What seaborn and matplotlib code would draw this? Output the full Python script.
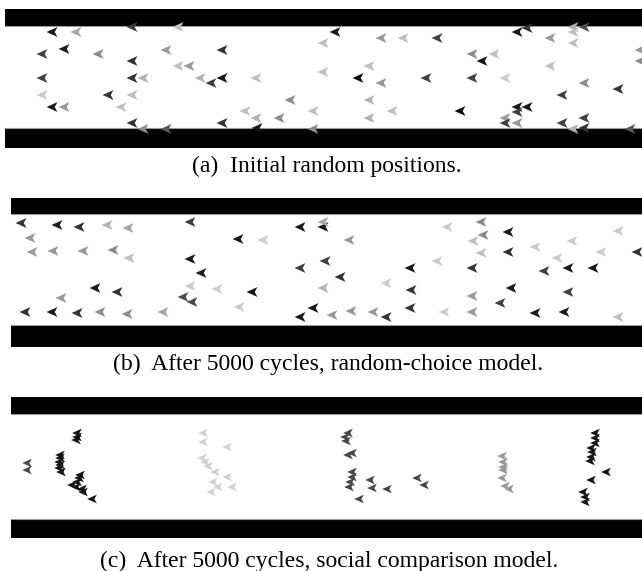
import numpy as np
import pandas as pd
import matplotlib
matplotlib.use("Agg")
import matplotlib.pyplot as plt
from matplotlib.path import Path
import seaborn as sns

# ---------------- data (positions, in pixel units) ----------------
a_x = [52, 76, 132, 178, 42, 64, 98, 166, 222, 323, 132, 178, 189, 42, 132, 143, 200, 211, 222, 256,
       323, 42, 108, 132, 290, 52, 64, 121, 245, 256, 279, 313, 132, 222, 143, 166, 257, 313,
       335, 381, 403, 437, 517, 527, 573, 584, 550, 573, 573, 472, 482, 494, 369, 550, 640, 640,
       358, 381, 426, 472, 505, 584, 618, 562, 369, 392, 460, 517, 527, 517, 369, 505, 505, 517,
       562, 584, 573, 584, 630]
a_y = [32, 32, 27, 27, 54, 49, 54, 50, 50, 43, 61, 66, 66, 78, 78, 78, 78, 83, 78, 78,
       72, 95, 95, 95, 100, 107, 107, 107, 111, 118, 118, 111, 123, 123, 129, 129, 128, 129,
       32, 38, 38, 38, 32, 28, 27, 27, 38, 32, 43, 54, 61, 54, 66, 66, 50, 61,
       78, 83, 78, 78, 78, 83, 89, 95, 100, 111, 111, 107, 107, 112, 118, 118, 123, 123,
       123, 118, 129, 128, 129]
a_shade = [0.1, 0.65, 0.25, 0.75, 0.25, 0.1, 0.55, 0.6, 0.2, 0.75, 0.2, 0.75, 0.6, 0.25, 0.2, 0.7, 0.7, 0.25, 0.1, 0.75,
           0.75, 0.8, 0.2, 0.75, 0.55, 0.1, 0.6, 0.75, 0.75, 0.7, 0.55, 0.75, 0.2, 0.2, 0.55, 0.35, 0.1, 0.55,
           0.1, 0.6, 0.75, 0.25, 0.1, 0.2, 0.7, 0.3, 0.6, 0.75, 0.75, 0.55, 0.1, 0.75, 0.75, 0.75, 0.6, 0.55,
           0.05, 0.6, 0.25, 0.25, 0.8, 0.55, 0.2, 0.25, 0.7, 0.75, 0.05, 0.1, 0.1, 0.25, 0.7, 0.6, 0.25, 0.6,
           0.25, 0.25, 0.7, 0.2, 0.35]

b_x = [21, 57, 79, 107, 128, 190, 30, 32, 53, 83, 113, 129, 238, 263, 190, 201, 190, 217, 252, 95,
       117, 61, 183, 192, 239, 25, 52, 77, 100, 127, 163, 300, 323, 323, 300, 325, 323, 313, 300,
       349, 340, 332, 351, 373, 386, 386, 410, 411, 410, 437, 447, 444, 481, 483, 473, 481, 472,
       472, 472, 508, 508, 511, 500, 535, 557, 572, 568, 593, 544, 568, 535, 564, 618, 601, 637, 618]
b_y = [223, 225, 227, 225, 228, 222, 238, 252, 251, 251, 250, 258, 239, 240, 259, 273, 286, 289, 292, 288,
       292, 298, 297, 302, 307, 312, 312, 313, 312, 314, 312, 227, 227, 222, 268, 261, 288, 308, 317,
       240, 277, 315, 311, 312, 317, 283, 268, 290, 308, 261, 227, 312, 222, 235, 241, 253, 268,
       296, 312, 232, 252, 288, 303, 247, 258, 241, 268, 268, 271, 292, 313, 312, 231, 252, 252, 317]
b_shade = [0.2, 0.1, 0.2, 0.7, 0.65, 0.25, 0.6, 0.6, 0.6, 0.6, 0.55, 0.75, 0.1, 0.8, 0.1, 0.1, 0.8, 0.8, 0.1, 0.1,
           0.2, 0.6, 0.3, 0.3, 0.8, 0.2, 0.1, 0.2, 0.55, 0.55, 0.65, 0.1, 0.1, 0.65, 0.25, 0.25, 0.7, 0.1, 0.1,
           0.6, 0.2, 0.6, 0.6, 0.6, 0.2, 0.8, 0.1, 0.2, 0.2, 0.8, 0.8, 0.8, 0.55, 0.55, 0.75, 0.75, 0.2,
           0.6, 0.6, 0.1, 0.2, 0.1, 0.25, 0.8, 0.8, 0.8, 0.1, 0.1, 0.25, 0.25, 0.1, 0.1, 0.8, 0.8, 0.2, 0.75]

c_x = [27, 27, 60, 60, 59, 60, 59, 61, 77, 77, 76, 80, 79, 77, 72, 76, 82, 83, 92,
       203, 203, 227, 202, 205, 208, 215, 227, 213, 218, 232, 211,
       348, 345, 346, 352, 348, 352, 352, 350, 370, 372, 349, 387, 359, 417, 424,
       502, 503, 503, 503, 502, 505, 509,
       595, 595, 595, 591, 592, 591, 590, 606, 591, 583, 585, 585]
c_y = [463, 470, 455, 458, 462, 465, 468, 472, 433, 437, 440, 475, 478, 482, 485, 487, 489, 492, 499,
       433, 442, 447, 458, 462, 466, 472, 477, 482, 487, 487, 492,
       433, 437, 441, 453, 455, 472, 477, 482, 480, 488, 487, 489, 499, 478, 485,
       456, 462, 467, 470, 478, 486, 489,
       433, 438, 443, 448, 452, 457, 461, 472, 480, 492, 497, 502]
c_shade = [0.3] * 2 + [0.08] * 17 + [0.82] * 12 + [0.28] * 15 + [0.6] * 7 + [0.08] * 12

captions = ["(a)  Initial random positions.",
            "(b)  After 5000 cycles, random-choice model.",
            "(c)  After 5000 cycles, social comparison model."]

# ---------------- figure ----------------
sns.set_theme(style="white")
plt.rcParams["font.family"] = ["Liberation Serif", "DejaVu Serif"]

W, H = 642, 571
fig = plt.figure(figsize=(W / 100, H / 100), dpi=100)
fig.patch.set_facecolor("white")

# panel geometry in pixels: (left, bar_top, white_top, white_bottom, bar_bottom, caption_x, caption_y)
panels = [
    (5, 9, 26, 128, 148, 327, 166),
    (11, 198, 214, 325, 347, 328, 364),
    (11, 397, 414, 519, 538, 329, 561),
]
datasets = [(a_x, a_y, a_shade, 62), (b_x, b_y, b_shade, 62), (c_x, c_y, c_shade, 48)]

arrow = Path([(-1.0, 0.0), (1.0, 0.9), (0.5, 0.0), (1.0, -0.9), (-1.0, 0.0)],
             [Path.MOVETO, Path.LINETO, Path.LINETO, Path.LINETO, Path.CLOSEPOLY])

for (left, bt, wt, wb, bb, cx, cy), (xs, ys, sh, size), cap in zip(panels, datasets, captions):
    ax = fig.add_axes([left / W, 1 - bb / H, (W - left) / W, (bb - bt) / H])
    ax.set_facecolor("#fdfdfd")
    ax.axhspan(bt, wt, color="black", lw=0, zorder=0)
    ax.axhspan(wb, bb, color="black", lw=0, zorder=0)
    ax.axhline(wt, color="#9a9a9a", lw=0.8, zorder=1)
    ax.axhline(wb, color="#9a9a9a", lw=0.8, zorder=1)
    df = pd.DataFrame({"x": xs, "y": ys, "shade": sh})
    sns.scatterplot(data=df, x="x", y="y", hue="shade", palette="gray", hue_norm=(0, 1),
                    marker=arrow, s=size, linewidth=0, legend=False, ax=ax, zorder=3)
    ax.set_xlim(left, W)
    ax.set_ylim(bb, bt)
    ax.set_axis_off()
    fig.text(cx / W, 1 - cy / H, cap, ha="center", va="center", fontsize=17, color="black")

fig.savefig("out.png", dpi=100)
